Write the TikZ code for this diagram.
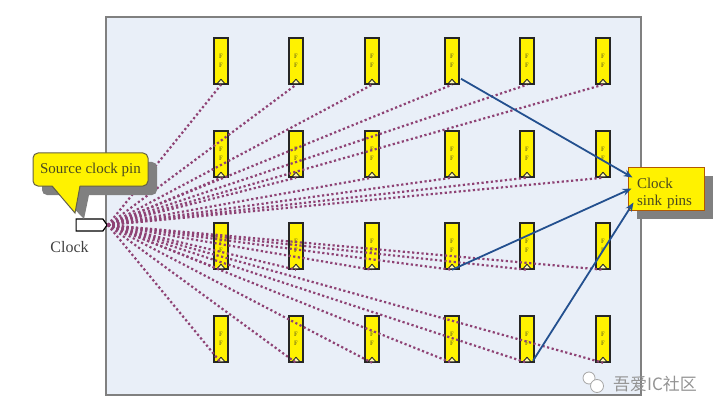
\documentclass[tikz,border=0pt]{standalone}
\usepackage{xcolor}
\usepackage{fontspec}
\setmainfont{Liberation Serif}
\newfontfamily\cjkfont{Noto Sans CJK SC}
\usetikzlibrary{shapes.symbols, arrows.meta, shadows}
\definecolor{chipblue}{HTML}{E9EFF8}
\definecolor{clockline}{HTML}{8E4274}
\definecolor{sinkline}{HTML}{23508F}
\definecolor{labeltext}{HTML}{4A4A20}

\begin{document}
\begin{tikzpicture}[
    x=1pt, y=-1pt,
    chip/.style={draw=gray, fill=chipblue, line width=2pt, minimum width=535pt, minimum height=378pt, inner sep=0pt},
    ff/.style={draw=black!85, fill=yellow, line width=1.5pt, minimum width=14pt, minimum height=46pt, inner sep=0pt, align=center, font=\fontsize{6.5}{9}\selectfont, text=labeltext},
    ffclk/.style={draw=black!85, fill=yellow!30, line width=0.9pt, line join=round},
    clockwire/.style={draw=clockline, line width=2.2pt, dash pattern=on 2.2pt off 2.5pt},
    sinkwire/.style={-{Stealth[length=9pt, width=7pt]}, draw=sinkline, line width=1.8pt},
    callbox/.style={fill=yellow, draw=black!70!yellow, line width=1pt, font=\fontsize{15}{16.5}\selectfont, text=labeltext},
    shade9/.style={drop shadow={shadow xshift=9pt, shadow yshift=-9pt, fill=gray, opacity=1}}
]
    \useasboundingbox (0,0) rectangle (719,414);

    \node[chip] (chip) at (373.5,206) {};

    % flip-flops
    \foreach \x/\c in {221/1, 296/2, 372/3, 452/4, 527/5, 603/6} {
        \foreach \y/\r in {61/1, 154/2, 246/3, 339/4} {
            \node[ff] (ff\c\r) at (\x,\y) {F\\F};
            \draw[ffclk] ([xshift=-4pt,yshift=1pt]ff\c\r.south) -- ([yshift=5.5pt]ff\c\r.south) -- ([xshift=4pt,yshift=1pt]ff\c\r.south) -- cycle;
        }
    }

    \node[signal, signal to=east, draw=black, fill=white, line width=1.2pt, minimum width=31pt, minimum height=12pt, inner sep=0pt, signal pointer angle=110] (clkpin) at (89.5,225) {};
    \node[font=\fontsize{16}{18}\selectfont, text=black!75] (clklabel) at (69.5,247) {Clock};

    % clock net
    \foreach \c in {1,...,6} {
        \foreach \r in {1,...,4} {
            \draw[clockwire] (clkpin.east) -- (ff\c\r.south);
        }
    }

    % callout, its pointer drawn over the box
    \fill[gray] (61,195) -- (84,219) -- (89,195) -- cycle;
    \node[callbox, shade9, rounded corners=5pt, minimum width=115pt, minimum height=33pt, inner sep=0pt] (source) at (90.5,169.5) {Source clock pin};
    \fill[yellow] (52,185) -- (75,213) -- (80,185) -- cycle;
    \draw[black!70!yellow, line width=1pt] (52,186) -- (75,213) -- (80,186);

    \node[callbox, shade9, draw=orange!70!black, minimum width=76pt, minimum height=43pt, inner sep=0pt, align=left, text width=58pt] (sink) at (666,188.5) {\rule{0pt}{20pt}Clock\\sink pins};

    \draw[sinkwire] ([xshift=9pt,yshift=6pt]ff41.south) -- ([xshift=5pt,yshift=11pt]sink.west);
    \draw[sinkwire] (ff43.south) -- ([xshift=4pt]sink.west);
    \draw[sinkwire] ([xshift=6pt,yshift=2pt]ff54.south) -- ([xshift=6pt,yshift=-14pt]sink.west);

    % watermark
    \node[circle, draw=gray!70, fill=white, line width=0.8pt, minimum size=12pt, inner sep=0pt] (wechatl) at (589,378) {};
    \node[circle, draw=gray!70, fill=white, line width=0.8pt, minimum size=13pt, inner sep=0pt] (wechatr) at (597,386) {};
    \node[font=\cjkfont\fontsize{17}{17}\selectfont, text=gray!85, inner sep=0pt] (mark) at (655,384) {吾爱IC社区};
\end{tikzpicture}
\end{document}
